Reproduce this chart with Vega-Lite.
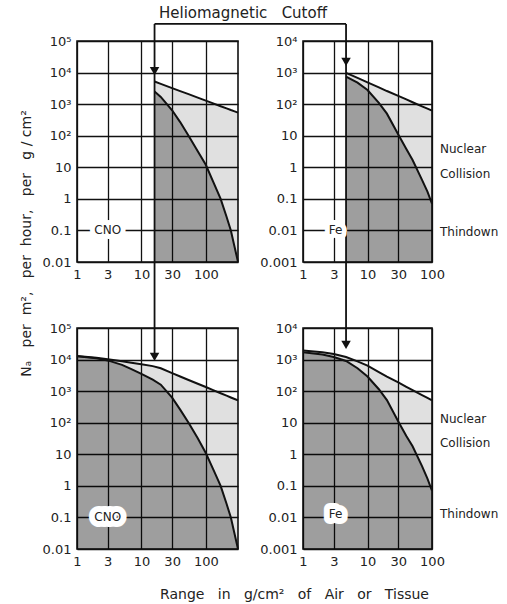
{
  "$schema": "https://vega.github.io/schema/vega-lite/v6.json",
  "background": "white",
  "padding": {"left": 18, "top": 5, "right": 0, "bottom": 0},
  "datasets": {
    "cnoTop": [
      {"x": 16, "upper": 5200, "lower": 2500},
      {"x": 20, "upper": 4380, "lower": 1700},
      {"x": 30, "upper": 3220, "lower": 640},
      {"x": 40, "upper": 2590, "lower": 270},
      {"x": 54, "upper": 2070, "lower": 100},
      {"x": 75, "upper": 1610, "lower": 32},
      {"x": 100, "upper": 1290, "lower": 12},
      {"x": 130, "upper": 1060, "lower": 3.5},
      {"x": 170, "upper": 860, "lower": 1},
      {"x": 210, "upper": 735, "lower": 0.27},
      {"x": 245, "upper": 650, "lower": 0.1},
      {"x": 280, "upper": 590, "lower": 0.03},
      {"x": 316.23, "upper": 540, "lower": 0.01}
    ],
    "cnoBottom": [
      {"x": 1, "upper": 13000, "lower": 12700},
      {"x": 2, "upper": 11400, "lower": 11000},
      {"x": 3, "upper": 10200, "lower": 9400},
      {"x": 5, "upper": 8800, "lower": 6800},
      {"x": 7, "upper": 7900, "lower": 5000},
      {"x": 10, "upper": 7100, "lower": 3500},
      {"x": 15, "upper": 6200, "lower": 2300},
      {"x": 20, "upper": 5300, "lower": 1600},
      {"x": 30, "upper": 3700, "lower": 620},
      {"x": 40, "upper": 2900, "lower": 260},
      {"x": 54, "upper": 2260, "lower": 100},
      {"x": 75, "upper": 1710, "lower": 32},
      {"x": 100, "upper": 1350, "lower": 11},
      {"x": 130, "upper": 1080, "lower": 3.4},
      {"x": 170, "upper": 860, "lower": 1},
      {"x": 210, "upper": 720, "lower": 0.27},
      {"x": 245, "upper": 630, "lower": 0.1},
      {"x": 280, "upper": 565, "lower": 0.03},
      {"x": 316.23, "upper": 508, "lower": 0.01}
    ],
    "feTop": [
      {"x": 4.65, "upper": 980, "lower": 750},
      {"x": 7, "upper": 680, "lower": 480},
      {"x": 10, "upper": 490, "lower": 280},
      {"x": 15, "upper": 340, "lower": 110},
      {"x": 20, "upper": 260, "lower": 50},
      {"x": 30, "upper": 183, "lower": 11},
      {"x": 40, "upper": 141, "lower": 3.8},
      {"x": 50, "upper": 115, "lower": 1.7},
      {"x": 70, "upper": 85, "lower": 0.4},
      {"x": 85, "upper": 72, "lower": 0.17},
      {"x": 100, "upper": 62, "lower": 0.07}
    ],
    "feBottom": [
      {"x": 1, "upper": 1950, "lower": 1700},
      {"x": 2, "upper": 1700, "lower": 1450},
      {"x": 3, "upper": 1500, "lower": 1200},
      {"x": 4.65, "upper": 1200, "lower": 900},
      {"x": 7, "upper": 880, "lower": 530},
      {"x": 10, "upper": 640, "lower": 290},
      {"x": 15, "upper": 400, "lower": 115},
      {"x": 20, "upper": 290, "lower": 52},
      {"x": 30, "upper": 190, "lower": 11},
      {"x": 40, "upper": 137, "lower": 3.8},
      {"x": 50, "upper": 107, "lower": 1.8},
      {"x": 70, "upper": 75, "lower": 0.42},
      {"x": 85, "upper": 61, "lower": 0.17},
      {"x": 100, "upper": 51, "lower": 0.07}
    ],
    "cnoTopLabels": [{"x": 3, "y": 0.1, "text": "CNO"}],
    "cnoBottomLabels": [{"x": 3, "y": 0.1, "text": "CNO"}],
    "feTopLabels": [{"x": 3.2, "y": 0.01, "text": "Fe"}],
    "feBottomLabels": [{"x": 3.2, "y": 0.013, "text": "Fe"}],
    "feTopSide": [
      {"x": 133, "y": 3.8, "text": "Nuclear"},
      {"x": 133, "y": 0.61, "text": "Collision"},
      {"x": 133, "y": 0.009, "text": "Thindown"}
    ],
    "feBottomSide": [
      {"x": 133, "y": 13, "text": "Nuclear"},
      {"x": 133, "y": 2.3, "text": "Collision"},
      {"x": 133, "y": 0.013, "text": "Thindown"}
    ],
    "heading": [{"x": 378, "y": 770000, "text": "Heliomagnetic\u00a0\u00a0\u00a0Cutoff"}],
    "one": [{}]
  },
  "columns": 2,
  "bounds": "flush",
  "spacing": {"row": 66, "column": 65},
  "concat": [
    {
      "width": 161,
      "height": 221,
      "layer": [
        {
          "data": {"name": "cnoTop"},
          "mark": {"type": "area", "fill": "black", "fillOpacity": 0.12},
          "encoding": {
            "x": {"field": "x", "type": "quantitative", "title": null, "scale": {"type": "log", "domain": [1, 316.23], "nice": false},
                  "axis": {"values": [1, 3, 10, 30, 100], "format": "d", "title": null}},
            "y": {"field": "upper", "type": "quantitative", "title": "Nₐ\u00a0\u00a0\u00a0per\u00a0\u00a0m²,\u00a0\u00a0\u00a0per\u00a0\u00a0hour,\u00a0\u00a0\u00a0per\u00a0\u00a0\u00a0g\u00a0/\u00a0cm²", "scale": {"type": "log", "domain": [0.01, 100000], "nice": false},
                  "axis": {"values": [0.01, 0.1, 1, 10, 100, 1000, 10000, 100000],
                           "labelExpr": "datum.value == 100000 ? '10⁵' : datum.value == 10000 ? '10⁴' : datum.value == 1000 ? '10³' : datum.value == 100 ? '10²' : datum.value == 10 ? '10' : datum.value == 1 ? '1' : datum.value == 0.1 ? '0.1' : datum.value == 0.01 ? '0.01' : '0.001'",
                           "title": "Nₐ\u00a0\u00a0\u00a0per\u00a0\u00a0m²,\u00a0\u00a0\u00a0per\u00a0\u00a0hour,\u00a0\u00a0\u00a0per\u00a0\u00a0\u00a0g\u00a0/\u00a0cm²",
                           "titleFontSize": 14,
                           "titleX": -51, "titleY": 202, "titleAngle": -90, "titleAlign": "center", "titleBaseline": "middle"}},
            "y2": {"field": "lower"}
          }
        },
        {
          "data": {"name": "cnoTop"},
          "mark": {"type": "area", "fill": "black", "fillOpacity": 0.38},
          "encoding": {
            "x": {"field": "x", "type": "quantitative", "title": null, "scale": {"type": "log", "domain": [1, 316.23], "nice": false}},
            "y": {"field": "lower", "type": "quantitative", "title": "Nₐ\u00a0\u00a0\u00a0per\u00a0\u00a0m²,\u00a0\u00a0\u00a0per\u00a0\u00a0hour,\u00a0\u00a0\u00a0per\u00a0\u00a0\u00a0g\u00a0/\u00a0cm²", "scale": {"type": "log", "domain": [0.01, 100000], "nice": false}},
            "y2": {"datum": 0.01}
          }
        },
        {
          "data": {"name": "cnoTop"},
          "mark": {"type": "line", "stroke": "#111", "strokeWidth": 2},
          "encoding": {
            "x": {"field": "x", "type": "quantitative", "title": null, "scale": {"type": "log", "domain": [1, 316.23], "nice": false}},
            "y": {"field": "upper", "type": "quantitative", "title": "Nₐ\u00a0\u00a0\u00a0per\u00a0\u00a0m²,\u00a0\u00a0\u00a0per\u00a0\u00a0hour,\u00a0\u00a0\u00a0per\u00a0\u00a0\u00a0g\u00a0/\u00a0cm²", "scale": {"type": "log", "domain": [0.01, 100000], "nice": false}}
          }
        },
        {
          "data": {"name": "cnoTop"},
          "mark": {"type": "line", "stroke": "#111", "strokeWidth": 2},
          "encoding": {
            "x": {"field": "x", "type": "quantitative", "title": null, "scale": {"type": "log", "domain": [1, 316.23], "nice": false}},
            "y": {"field": "lower", "type": "quantitative", "title": "Nₐ\u00a0\u00a0\u00a0per\u00a0\u00a0m²,\u00a0\u00a0\u00a0per\u00a0\u00a0hour,\u00a0\u00a0\u00a0per\u00a0\u00a0\u00a0g\u00a0/\u00a0cm²", "scale": {"type": "log", "domain": [0.01, 100000], "nice": false}}
          }
        },
        {
          "data": {"name": "one"},
          "mark": {"type": "rule", "stroke": "#111", "strokeWidth": 1.8},
          "encoding": {
            "x": {"datum": 16, "type": "quantitative", "title": null, "scale": {"type": "log", "domain": [1, 316.23], "nice": false}},
            "y": {"datum": 347000, "type": "quantitative", "title": "Nₐ\u00a0\u00a0\u00a0per\u00a0\u00a0m²,\u00a0\u00a0\u00a0per\u00a0\u00a0hour,\u00a0\u00a0\u00a0per\u00a0\u00a0\u00a0g\u00a0/\u00a0cm²", "scale": {"type": "log", "domain": [0.01, 100000], "nice": false}},
            "y2": {"datum": 0.01}
          }
        },
        {
          "data": {"name": "one"},
          "mark": {"type": "rule", "stroke": "#111", "strokeWidth": 1.8},
          "encoding": {
            "x": {"datum": 16, "type": "quantitative", "title": null, "scale": {"type": "log", "domain": [1, 316.23], "nice": false}},
            "x2": {"datum": 15060},
            "y": {"datum": 347000, "type": "quantitative", "title": "Nₐ\u00a0\u00a0\u00a0per\u00a0\u00a0m²,\u00a0\u00a0\u00a0per\u00a0\u00a0hour,\u00a0\u00a0\u00a0per\u00a0\u00a0\u00a0g\u00a0/\u00a0cm²", "scale": {"type": "log", "domain": [0.01, 100000], "nice": false}}
          }
        },
        {
          "data": {"name": "one"},
          "mark": {"type": "point", "shape": "triangle-down", "filled": true, "color": "#111", "size": 90, "opacity": 1},
          "encoding": {
            "x": {"datum": 16, "type": "quantitative", "title": null, "scale": {"type": "log", "domain": [1, 316.23], "nice": false}},
            "y": {"datum": 11200, "type": "quantitative", "title": "Nₐ\u00a0\u00a0\u00a0per\u00a0\u00a0m²,\u00a0\u00a0\u00a0per\u00a0\u00a0hour,\u00a0\u00a0\u00a0per\u00a0\u00a0\u00a0g\u00a0/\u00a0cm²", "scale": {"type": "log", "domain": [0.01, 100000], "nice": false}}
          }
        },
        {
          "data": {"name": "cnoTopLabels"},
          "mark": {"type": "text", "font": "DejaVu Sans", "fontSize": 12, "fill": "white", "stroke": "white", "strokeWidth": 10, "strokeJoin": "round"},
          "encoding": {
            "x": {"field": "x", "type": "quantitative", "title": null, "scale": {"type": "log", "domain": [1, 316.23], "nice": false}},
            "y": {"field": "y", "type": "quantitative", "title": "Nₐ\u00a0\u00a0\u00a0per\u00a0\u00a0m²,\u00a0\u00a0\u00a0per\u00a0\u00a0hour,\u00a0\u00a0\u00a0per\u00a0\u00a0\u00a0g\u00a0/\u00a0cm²", "scale": {"type": "log", "domain": [0.01, 100000], "nice": false}},
            "text": {"field": "text"}
          }
        },
        {
          "data": {"name": "cnoTopLabels"},
          "mark": {"type": "text", "font": "DejaVu Sans", "fontSize": 12, "fill": "#222"},
          "encoding": {
            "x": {"field": "x", "type": "quantitative", "title": null, "scale": {"type": "log", "domain": [1, 316.23], "nice": false}},
            "y": {"field": "y", "type": "quantitative", "title": "Nₐ\u00a0\u00a0\u00a0per\u00a0\u00a0m²,\u00a0\u00a0\u00a0per\u00a0\u00a0hour,\u00a0\u00a0\u00a0per\u00a0\u00a0\u00a0g\u00a0/\u00a0cm²", "scale": {"type": "log", "domain": [0.01, 100000], "nice": false}},
            "text": {"field": "text"}
          }
        },
        {
          "data": {"name": "heading"},
          "mark": {"type": "text", "font": "DejaVu Sans", "fontSize": 15, "fill": "#222", "align": "center", "baseline": "middle"},
          "encoding": {
            "x": {"field": "x", "type": "quantitative", "title": null, "scale": {"type": "log", "domain": [1, 316.23], "nice": false}},
            "y": {"field": "y", "type": "quantitative", "title": "Nₐ\u00a0\u00a0\u00a0per\u00a0\u00a0m²,\u00a0\u00a0\u00a0per\u00a0\u00a0hour,\u00a0\u00a0\u00a0per\u00a0\u00a0\u00a0g\u00a0/\u00a0cm²", "scale": {"type": "log", "domain": [0.01, 100000], "nice": false}},
            "text": {"field": "text"}
          }
        }
      ]
    },
    {
      "width": 129,
      "height": 221,
      "layer": [
        {
          "data": {"name": "feTop"},
          "mark": {"type": "area", "fill": "black", "fillOpacity": 0.12},
          "encoding": {
            "x": {"field": "x", "type": "quantitative", "title": null, "scale": {"type": "log", "domain": [1, 100], "nice": false},
                  "axis": {"values": [1, 3, 10, 30, 100], "format": "d", "title": null}},
            "y": {"field": "upper", "type": "quantitative", "title": null, "scale": {"type": "log", "domain": [0.001, 10000], "nice": false},
                  "axis": {"values": [0.001, 0.01, 0.1, 1, 10, 100, 1000, 10000],
                           "labelExpr": "datum.value == 100000 ? '10⁵' : datum.value == 10000 ? '10⁴' : datum.value == 1000 ? '10³' : datum.value == 100 ? '10²' : datum.value == 10 ? '10' : datum.value == 1 ? '1' : datum.value == 0.1 ? '0.1' : datum.value == 0.01 ? '0.01' : '0.001'",
                           "title": null}},
            "y2": {"field": "lower"}
          }
        },
        {
          "data": {"name": "feTop"},
          "mark": {"type": "area", "fill": "black", "fillOpacity": 0.38},
          "encoding": {
            "x": {"field": "x", "type": "quantitative", "title": null, "scale": {"type": "log", "domain": [1, 100], "nice": false}},
            "y": {"field": "lower", "type": "quantitative", "title": null, "scale": {"type": "log", "domain": [0.001, 10000], "nice": false}},
            "y2": {"datum": 0.001}
          }
        },
        {
          "data": {"name": "feTop"},
          "mark": {"type": "line", "stroke": "#111", "strokeWidth": 2},
          "encoding": {
            "x": {"field": "x", "type": "quantitative", "title": null, "scale": {"type": "log", "domain": [1, 100], "nice": false}},
            "y": {"field": "upper", "type": "quantitative", "title": null, "scale": {"type": "log", "domain": [0.001, 10000], "nice": false}}
          }
        },
        {
          "data": {"name": "feTop"},
          "mark": {"type": "line", "stroke": "#111", "strokeWidth": 2},
          "encoding": {
            "x": {"field": "x", "type": "quantitative", "title": null, "scale": {"type": "log", "domain": [1, 100], "nice": false}},
            "y": {"field": "lower", "type": "quantitative", "title": null, "scale": {"type": "log", "domain": [0.001, 10000], "nice": false}}
          }
        },
        {
          "data": {"name": "one"},
          "mark": {"type": "rule", "stroke": "#111", "strokeWidth": 1.8},
          "encoding": {
            "x": {"datum": 4.65, "type": "quantitative", "title": null, "scale": {"type": "log", "domain": [1, 100], "nice": false}},
            "y": {"datum": 34700, "type": "quantitative", "title": null, "scale": {"type": "log", "domain": [0.001, 10000], "nice": false}},
            "y2": {"datum": 0.001}
          }
        },
        {
          "data": {"name": "one"},
          "mark": {"type": "point", "shape": "triangle-down", "filled": true, "color": "#111", "size": 90, "opacity": 1},
          "encoding": {
            "x": {"datum": 4.65, "type": "quantitative", "title": null, "scale": {"type": "log", "domain": [1, 100], "nice": false}},
            "y": {"datum": 2190, "type": "quantitative", "title": null, "scale": {"type": "log", "domain": [0.001, 10000], "nice": false}}
          }
        },
        {
          "data": {"name": "feTopLabels"},
          "mark": {"type": "text", "font": "DejaVu Sans", "fontSize": 12, "fill": "white", "stroke": "white", "strokeWidth": 10, "strokeJoin": "round"},
          "encoding": {
            "x": {"field": "x", "type": "quantitative", "title": null, "scale": {"type": "log", "domain": [1, 100], "nice": false}},
            "y": {"field": "y", "type": "quantitative", "title": null, "scale": {"type": "log", "domain": [0.001, 10000], "nice": false}},
            "text": {"field": "text"}
          }
        },
        {
          "data": {"name": "feTopLabels"},
          "mark": {"type": "text", "font": "DejaVu Sans", "fontSize": 12, "fill": "#222"},
          "encoding": {
            "x": {"field": "x", "type": "quantitative", "title": null, "scale": {"type": "log", "domain": [1, 100], "nice": false}},
            "y": {"field": "y", "type": "quantitative", "title": null, "scale": {"type": "log", "domain": [0.001, 10000], "nice": false}},
            "text": {"field": "text"}
          }
        },
        {
          "data": {"name": "feTopSide"},
          "mark": {"type": "text", "font": "DejaVu Sans", "fontSize": 12, "fill": "#222", "align": "left", "baseline": "middle"},
          "encoding": {
            "x": {"field": "x", "type": "quantitative", "title": null, "scale": {"type": "log", "domain": [1, 100], "nice": false}},
            "y": {"field": "y", "type": "quantitative", "title": null, "scale": {"type": "log", "domain": [0.001, 10000], "nice": false}},
            "text": {"field": "text"}
          }
        }
      ]
    },
    {
      "width": 161,
      "height": 221,
      "layer": [
        {
          "data": {"name": "cnoBottom"},
          "mark": {"type": "area", "fill": "black", "fillOpacity": 0.12},
          "encoding": {
            "x": {"field": "x", "type": "quantitative", "title": "Range\u00a0\u00a0\u00a0in\u00a0\u00a0\u00a0g/cm²\u00a0\u00a0\u00a0of\u00a0\u00a0\u00a0Air\u00a0\u00a0\u00a0or\u00a0\u00a0\u00a0Tissue", "scale": {"type": "log", "domain": [1, 316.23], "nice": false},
                  "axis": {"values": [1, 3, 10, 30, 100], "format": "d",
                           "title": "Range\u00a0\u00a0\u00a0in\u00a0\u00a0\u00a0g/cm²\u00a0\u00a0\u00a0of\u00a0\u00a0\u00a0Air\u00a0\u00a0\u00a0or\u00a0\u00a0\u00a0Tissue",
                           "titleFontSize": 14,
                           "titleX": 217, "titleY": 45, "titleAlign": "center", "titleBaseline": "middle", "titleAngle": 0}},
            "y": {"field": "upper", "type": "quantitative", "title": null, "scale": {"type": "log", "domain": [0.01, 100000], "nice": false},
                  "axis": {"values": [0.01, 0.1, 1, 10, 100, 1000, 10000, 100000],
                           "labelExpr": "datum.value == 100000 ? '10⁵' : datum.value == 10000 ? '10⁴' : datum.value == 1000 ? '10³' : datum.value == 100 ? '10²' : datum.value == 10 ? '10' : datum.value == 1 ? '1' : datum.value == 0.1 ? '0.1' : datum.value == 0.01 ? '0.01' : '0.001'",
                           "title": null}},
            "y2": {"field": "lower"}
          }
        },
        {
          "data": {"name": "cnoBottom"},
          "mark": {"type": "area", "fill": "black", "fillOpacity": 0.38},
          "encoding": {
            "x": {"field": "x", "type": "quantitative", "title": "Range\u00a0\u00a0\u00a0in\u00a0\u00a0\u00a0g/cm²\u00a0\u00a0\u00a0of\u00a0\u00a0\u00a0Air\u00a0\u00a0\u00a0or\u00a0\u00a0\u00a0Tissue", "scale": {"type": "log", "domain": [1, 316.23], "nice": false}},
            "y": {"field": "lower", "type": "quantitative", "title": null, "scale": {"type": "log", "domain": [0.01, 100000], "nice": false}},
            "y2": {"datum": 0.01}
          }
        },
        {
          "data": {"name": "cnoBottom"},
          "mark": {"type": "line", "stroke": "#111", "strokeWidth": 2},
          "encoding": {
            "x": {"field": "x", "type": "quantitative", "title": "Range\u00a0\u00a0\u00a0in\u00a0\u00a0\u00a0g/cm²\u00a0\u00a0\u00a0of\u00a0\u00a0\u00a0Air\u00a0\u00a0\u00a0or\u00a0\u00a0\u00a0Tissue", "scale": {"type": "log", "domain": [1, 316.23], "nice": false}},
            "y": {"field": "upper", "type": "quantitative", "title": null, "scale": {"type": "log", "domain": [0.01, 100000], "nice": false}}
          }
        },
        {
          "data": {"name": "cnoBottom"},
          "mark": {"type": "line", "stroke": "#111", "strokeWidth": 2},
          "encoding": {
            "x": {"field": "x", "type": "quantitative", "title": "Range\u00a0\u00a0\u00a0in\u00a0\u00a0\u00a0g/cm²\u00a0\u00a0\u00a0of\u00a0\u00a0\u00a0Air\u00a0\u00a0\u00a0or\u00a0\u00a0\u00a0Tissue", "scale": {"type": "log", "domain": [1, 316.23], "nice": false}},
            "y": {"field": "lower", "type": "quantitative", "title": null, "scale": {"type": "log", "domain": [0.01, 100000], "nice": false}}
          }
        },
        {
          "data": {"name": "one"},
          "mark": {"type": "rule", "stroke": "#111", "strokeWidth": 1.8},
          "encoding": {
            "x": {"datum": 16, "type": "quantitative", "title": "Range\u00a0\u00a0\u00a0in\u00a0\u00a0\u00a0g/cm²\u00a0\u00a0\u00a0of\u00a0\u00a0\u00a0Air\u00a0\u00a0\u00a0or\u00a0\u00a0\u00a0Tissue", "scale": {"type": "log", "domain": [1, 316.23], "nice": false}},
            "y": {"datum": 11500000, "type": "quantitative", "title": null, "scale": {"type": "log", "domain": [0.01, 100000], "nice": false}},
            "y2": {"datum": 12200}
          }
        },
        {
          "data": {"name": "one"},
          "mark": {"type": "point", "shape": "triangle-down", "filled": true, "color": "#111", "size": 90, "opacity": 1},
          "encoding": {
            "x": {"datum": 16, "type": "quantitative", "title": "Range\u00a0\u00a0\u00a0in\u00a0\u00a0\u00a0g/cm²\u00a0\u00a0\u00a0of\u00a0\u00a0\u00a0Air\u00a0\u00a0\u00a0or\u00a0\u00a0\u00a0Tissue", "scale": {"type": "log", "domain": [1, 316.23], "nice": false}},
            "y": {"datum": 12200, "type": "quantitative", "title": null, "scale": {"type": "log", "domain": [0.01, 100000], "nice": false}}
          }
        },
        {
          "data": {"name": "cnoBottomLabels"},
          "mark": {"type": "text", "font": "DejaVu Sans", "fontSize": 12, "fill": "white", "stroke": "white", "strokeWidth": 12, "strokeJoin": "round"},
          "encoding": {
            "x": {"field": "x", "type": "quantitative", "title": "Range\u00a0\u00a0\u00a0in\u00a0\u00a0\u00a0g/cm²\u00a0\u00a0\u00a0of\u00a0\u00a0\u00a0Air\u00a0\u00a0\u00a0or\u00a0\u00a0\u00a0Tissue", "scale": {"type": "log", "domain": [1, 316.23], "nice": false}},
            "y": {"field": "y", "type": "quantitative", "title": null, "scale": {"type": "log", "domain": [0.01, 100000], "nice": false}},
            "text": {"field": "text"}
          }
        },
        {
          "data": {"name": "cnoBottomLabels"},
          "mark": {"type": "text", "font": "DejaVu Sans", "fontSize": 12, "fill": "#222"},
          "encoding": {
            "x": {"field": "x", "type": "quantitative", "title": "Range\u00a0\u00a0\u00a0in\u00a0\u00a0\u00a0g/cm²\u00a0\u00a0\u00a0of\u00a0\u00a0\u00a0Air\u00a0\u00a0\u00a0or\u00a0\u00a0\u00a0Tissue", "scale": {"type": "log", "domain": [1, 316.23], "nice": false}},
            "y": {"field": "y", "type": "quantitative", "title": null, "scale": {"type": "log", "domain": [0.01, 100000], "nice": false}},
            "text": {"field": "text"}
          }
        }
      ]
    },
    {
      "width": 129,
      "height": 221,
      "layer": [
        {
          "data": {"name": "feBottom"},
          "mark": {"type": "area", "fill": "black", "fillOpacity": 0.12},
          "encoding": {
            "x": {"field": "x", "type": "quantitative", "title": null, "scale": {"type": "log", "domain": [1, 100], "nice": false},
                  "axis": {"values": [1, 3, 10, 30, 100], "format": "d", "title": null}},
            "y": {"field": "upper", "type": "quantitative", "title": null, "scale": {"type": "log", "domain": [0.001, 10000], "nice": false},
                  "axis": {"values": [0.001, 0.01, 0.1, 1, 10, 100, 1000, 10000],
                           "labelExpr": "datum.value == 100000 ? '10⁵' : datum.value == 10000 ? '10⁴' : datum.value == 1000 ? '10³' : datum.value == 100 ? '10²' : datum.value == 10 ? '10' : datum.value == 1 ? '1' : datum.value == 0.1 ? '0.1' : datum.value == 0.01 ? '0.01' : '0.001'",
                           "title": null}},
            "y2": {"field": "lower"}
          }
        },
        {
          "data": {"name": "feBottom"},
          "mark": {"type": "area", "fill": "black", "fillOpacity": 0.38},
          "encoding": {
            "x": {"field": "x", "type": "quantitative", "title": null, "scale": {"type": "log", "domain": [1, 100], "nice": false}},
            "y": {"field": "lower", "type": "quantitative", "title": null, "scale": {"type": "log", "domain": [0.001, 10000], "nice": false}},
            "y2": {"datum": 0.001}
          }
        },
        {
          "data": {"name": "feBottom"},
          "mark": {"type": "line", "stroke": "#111", "strokeWidth": 2},
          "encoding": {
            "x": {"field": "x", "type": "quantitative", "title": null, "scale": {"type": "log", "domain": [1, 100], "nice": false}},
            "y": {"field": "upper", "type": "quantitative", "title": null, "scale": {"type": "log", "domain": [0.001, 10000], "nice": false}}
          }
        },
        {
          "data": {"name": "feBottom"},
          "mark": {"type": "line", "stroke": "#111", "strokeWidth": 2},
          "encoding": {
            "x": {"field": "x", "type": "quantitative", "title": null, "scale": {"type": "log", "domain": [1, 100], "nice": false}},
            "y": {"field": "lower", "type": "quantitative", "title": null, "scale": {"type": "log", "domain": [0.001, 10000], "nice": false}}
          }
        },
        {
          "data": {"name": "one"},
          "mark": {"type": "rule", "stroke": "#111", "strokeWidth": 1.8},
          "encoding": {
            "x": {"datum": 4.65, "type": "quantitative", "title": null, "scale": {"type": "log", "domain": [1, 100], "nice": false}},
            "y": {"datum": 1150000, "type": "quantitative", "title": null, "scale": {"type": "log", "domain": [0.001, 10000], "nice": false}},
            "y2": {"datum": 2900}
          }
        },
        {
          "data": {"name": "one"},
          "mark": {"type": "point", "shape": "triangle-down", "filled": true, "color": "#111", "size": 90, "opacity": 1},
          "encoding": {
            "x": {"datum": 4.65, "type": "quantitative", "title": null, "scale": {"type": "log", "domain": [1, 100], "nice": false}},
            "y": {"datum": 2900, "type": "quantitative", "title": null, "scale": {"type": "log", "domain": [0.001, 10000], "nice": false}}
          }
        },
        {
          "data": {"name": "feBottomLabels"},
          "mark": {"type": "text", "font": "DejaVu Sans", "fontSize": 12, "fill": "white", "stroke": "white", "strokeWidth": 12, "strokeJoin": "round"},
          "encoding": {
            "x": {"field": "x", "type": "quantitative", "title": null, "scale": {"type": "log", "domain": [1, 100], "nice": false}},
            "y": {"field": "y", "type": "quantitative", "title": null, "scale": {"type": "log", "domain": [0.001, 10000], "nice": false}},
            "text": {"field": "text"}
          }
        },
        {
          "data": {"name": "feBottomLabels"},
          "mark": {"type": "text", "font": "DejaVu Sans", "fontSize": 12, "fill": "#222"},
          "encoding": {
            "x": {"field": "x", "type": "quantitative", "title": null, "scale": {"type": "log", "domain": [1, 100], "nice": false}},
            "y": {"field": "y", "type": "quantitative", "title": null, "scale": {"type": "log", "domain": [0.001, 10000], "nice": false}},
            "text": {"field": "text"}
          }
        },
        {
          "data": {"name": "feBottomSide"},
          "mark": {"type": "text", "font": "DejaVu Sans", "fontSize": 12, "fill": "#222", "align": "left", "baseline": "middle"},
          "encoding": {
            "x": {"field": "x", "type": "quantitative", "title": null, "scale": {"type": "log", "domain": [1, 100], "nice": false}},
            "y": {"field": "y", "type": "quantitative", "title": null, "scale": {"type": "log", "domain": [0.001, 10000], "nice": false}},
            "text": {"field": "text"}
          }
        }
      ]
    }
  ],
  "config": {
    "view": {"stroke": "#111", "strokeWidth": 1.6},
    "axis": {
      "grid": true, "gridColor": "#111", "gridWidth": 1.3, "gridOpacity": 1,
      "domain": false, "ticks": false, "labelFlush": false, "labelOverlap": false,
      "labelFont": "DejaVu Sans", "labelFontSize": 13, "labelColor": "#222", "labelPadding": 6,
      "titleFont": "DejaVu Sans", "titleFontSize": 13, "titleFontWeight": "normal", "titleColor": "#222"
    }
  }
}
